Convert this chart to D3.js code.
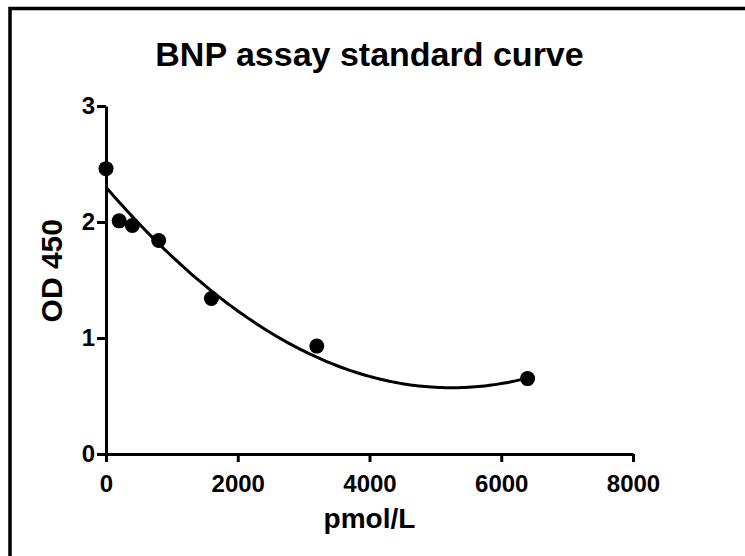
<!DOCTYPE html>
<html>
<head>
<meta charset="utf-8">
<script src="https://cdn.jsdelivr.net/npm/d3@7"></script>
<style>
  body { margin: 0; background: #fff; }
  text { font-family: "Liberation Sans", Arial, sans-serif; font-weight: bold; fill: #000; }
</style>
</head>
<body>
<svg width="745" height="556"></svg>
<script>
const titleText = 'BNP assay standard curve';
const xAxisLabel = 'pmol/L';
const yAxisLabel = 'OD 450';

// standards
const concentration = [0, 200, 400, 800, 1600, 3200, 6400];
const od450 = [2.46, 2.01, 1.97, 1.84, 1.34, 0.93, 0.65];

// second order polynomial fit (a + b x + c x^2)
const fitCoef = [2.30, -6.59e-4, 6.28e-8];

const xTicks = [0, 2000, 4000, 6000, 8000];
const yTicks = [0, 1, 2, 3];

const svg = d3.select('svg');
const width = +svg.attr('width');
const height = +svg.attr('height');

// outer frame, open on the right and bottom
svg.append('path')
    .attr('d', `M10,${height} V8.5 H${width}`)
    .attr('fill', 'none')
    .attr('stroke', '#000')
    .attr('stroke-width', 3.5);

const margin = { top: 106, right: 112, bottom: 102, left: 106 };
const innerWidth = width - margin.left - margin.right;
const innerHeight = height - margin.top - margin.bottom;

const xScale = d3.scaleLinear().domain([0, 8000]).range([0, innerWidth]);
const yScale = d3.scaleLinear().domain([0, 3]).range([innerHeight, 0]);

const g = svg.append('g')
    .attr('transform', `translate(${margin.left},${margin.top})`);

const xAxisG = g.append('g')
    .attr('transform', `translate(0,${innerHeight})`)
    .call(d3.axisBottom(xScale).tickValues(xTicks).tickSize(8).tickSizeOuter(0).tickPadding(13).tickFormat(d3.format('d')));

const yAxisG = g.append('g')
    .call(d3.axisLeft(yScale).tickValues(yTicks).tickSize(9).tickSizeOuter(0).tickPadding(2).tickFormat(d3.format('d')));

[xAxisG, yAxisG].forEach(a => {
    a.attr('font-size', 24).attr('font-family', null);
    a.selectAll('.domain, .tick line').attr('stroke', '#000').attr('stroke-width', 3);
    a.selectAll('.tick text').attr('fill', '#000');
});

// fit curve
const fitX = d3.range(0, 6400 + 1, 50);
const poly = x => fitCoef[0] + fitCoef[1] * x + fitCoef[2] * x * x;
const lineGenerator = d3.line()
    .x(d => xScale(d))
    .y(d => yScale(poly(d)))
    .curve(d3.curveBasis);

g.append('path')
    .attr('d', lineGenerator(fitX))
    .attr('fill', 'none')
    .attr('stroke', '#000')
    .attr('stroke-width', 3);

g.selectAll('circle')
    .data(concentration)
    .enter().append('circle')
    .attr('cx', d => xScale(d))
    .attr('cy', (d, i) => yScale(od450[i]))
    .attr('r', 7.5)
    .attr('fill', '#000');

g.append('text')
    .attr('x', innerWidth / 2)
    .attr('y', -40)
    .attr('text-anchor', 'middle')
    .attr('font-size', 34)
    .text(titleText);

g.append('text')
    .attr('x', innerWidth / 2)
    .attr('y', innerHeight + 74)
    .attr('text-anchor', 'middle')
    .attr('font-size', 28)
    .text(xAxisLabel);

g.append('text')
    .attr('transform', `translate(${-44},${yScale(1.58)}) rotate(-90)`)
    .attr('text-anchor', 'middle')
    .attr('font-size', 30)
    .text(yAxisLabel);
</script>
</body>
</html>
